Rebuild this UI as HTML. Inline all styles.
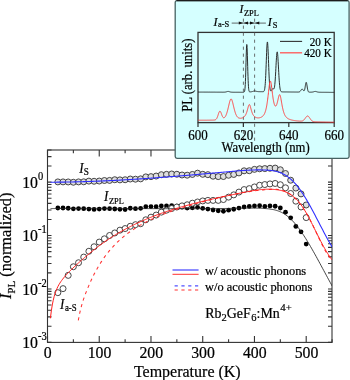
<!DOCTYPE html>
<html><head><meta charset="utf-8"><style>html,body{margin:0;padding:0;width:350px;height:380px;overflow:hidden;background:#fff}.t{font-family:"Liberation Serif",serif;fill:#000;stroke:#000;stroke-width:.2}</style></head><body>
<svg width="350" height="380" viewBox="0 0 350 380" style="position:absolute;left:0;top:0;will-change:transform">
<rect width="350" height="380" fill="#fff"/>
<rect x="47.5" y="150.0" width="284.5" height="192.39999999999998" fill="none" stroke="#333" stroke-width="1.1"/>
<path d="M47.5,342.4v-6.4M47.5,150.0v6.4M73.37,342.4v-3.2M73.37,150.0v3.2M99.24,342.4v-6.4M99.24,150.0v6.4M125.11,342.4v-3.2M125.11,150.0v3.2M150.98,342.4v-6.4M150.98,150.0v6.4M176.85,342.4v-3.2M176.85,150.0v3.2M202.72,342.4v-6.4M202.72,150.0v6.4M228.59,342.4v-3.2M228.59,150.0v3.2M254.46,342.4v-6.4M254.46,150.0v6.4M280.33,342.4v-3.2M280.33,150.0v3.2M306.2,342.4v-6.4M306.2,150.0v6.4M332.07,342.4v-3.2M332.07,150.0v3.2M47.5,342.39h4M332.0,342.39h-4M47.5,326.31h4M332.0,326.31h-4M47.5,316.9h4M332.0,316.9h-4M47.5,310.22h4M332.0,310.22h-4M47.5,305.04h4M332.0,305.04h-4M47.5,300.81h4M332.0,300.81h-4M47.5,297.24h4M332.0,297.24h-4M47.5,294.14h4M332.0,294.14h-4M47.5,291.4h4M332.0,291.4h-4M47.5,288.96h4M332.0,288.96h-4M47.5,272.88h4M332.0,272.88h-4M47.5,263.47h4M332.0,263.47h-4M47.5,256.79h4M332.0,256.79h-4M47.5,251.61h4M332.0,251.61h-4M47.5,247.38h4M332.0,247.38h-4M47.5,243.81h4M332.0,243.81h-4M47.5,240.71h4M332.0,240.71h-4M47.5,237.97h4M332.0,237.97h-4M47.5,235.53h4M332.0,235.53h-4M47.5,219.45h4M332.0,219.45h-4M47.5,210.04h4M332.0,210.04h-4M47.5,203.36h4M332.0,203.36h-4M47.5,198.18h4M332.0,198.18h-4M47.5,193.95h4M332.0,193.95h-4M47.5,190.38h4M332.0,190.38h-4M47.5,187.28h4M332.0,187.28h-4M47.5,184.54h4M332.0,184.54h-4M47.5,182.1h4M332.0,182.1h-4M47.5,166.02h4M332.0,166.02h-4M47.5,156.61h4M332.0,156.61h-4M47.5,149.93h4M332.0,149.93h-4" stroke="#333" stroke-width="1.1" fill="none"/>
<text class="t" transform="translate(47.8,357.6) scale(1,1.05)" font-size="15.8" text-anchor="middle">0</text>
<text class="t" transform="translate(99.54,357.6) scale(1,1.05)" font-size="15.8" text-anchor="middle">100</text>
<text class="t" transform="translate(151.28,357.6) scale(1,1.05)" font-size="15.8" text-anchor="middle">200</text>
<text class="t" transform="translate(203.02,357.6) scale(1,1.05)" font-size="15.8" text-anchor="middle">300</text>
<text class="t" transform="translate(254.76,357.6) scale(1,1.05)" font-size="15.8" text-anchor="middle">400</text>
<text class="t" transform="translate(306.5,357.6) scale(1,1.05)" font-size="15.8" text-anchor="middle">500</text>
<text class="t" transform="translate(38,347.99) scale(1,1.06)" font-size="15.8" text-anchor="end">10</text>
<text class="t" transform="translate(38.1,340.19) scale(1,1.1)" font-size="10.5">-3</text>
<text class="t" transform="translate(38,294.56) scale(1,1.06)" font-size="15.8" text-anchor="end">10</text>
<text class="t" transform="translate(38.1,286.76) scale(1,1.1)" font-size="10.5">-2</text>
<text class="t" transform="translate(38,241.13) scale(1,1.06)" font-size="15.8" text-anchor="end">10</text>
<text class="t" transform="translate(38.1,233.33) scale(1,1.1)" font-size="10.5">-1</text>
<text class="t" transform="translate(38,187.7) scale(1,1.06)" font-size="15.8" text-anchor="end">10</text>
<text class="t" transform="translate(38.1,179.9) scale(1,1.1)" font-size="10.5">0</text>
<text class="t" x="187.3" y="376.7" font-size="16" text-anchor="middle">Temperature (K)</text>
<text class="t" transform="translate(11.4,245.9) rotate(-90)" font-size="16.3" text-anchor="middle"><tspan font-style="italic">I</tspan><tspan font-size="11" dy="3.1">PL</tspan><tspan dy="-3.1"> (normalized)</tspan></text>
<defs><clipPath id="cp"><rect x="47.5" y="150.0" width="284.5" height="192.39999999999998"/></clipPath></defs>
<g clip-path="url(#cp)">
<circle cx="57.85" cy="181.9" r="3.0" fill="#dedede" stroke="#333" stroke-width="0.9"/>
<circle cx="63.02" cy="181.9" r="3.0" fill="#dedede" stroke="#333" stroke-width="0.9"/>
<circle cx="68.2" cy="181.94" r="3.0" fill="#dedede" stroke="#333" stroke-width="0.9"/>
<circle cx="73.37" cy="182.26" r="3.0" fill="#dedede" stroke="#333" stroke-width="0.9"/>
<circle cx="78.54" cy="181.9" r="3.0" fill="#dedede" stroke="#333" stroke-width="0.9"/>
<circle cx="83.72" cy="181.81" r="3.0" fill="#dedede" stroke="#333" stroke-width="0.9"/>
<circle cx="88.89" cy="181.12" r="3.0" fill="#dedede" stroke="#333" stroke-width="0.9"/>
<circle cx="94.07" cy="181.28" r="3.0" fill="#dedede" stroke="#333" stroke-width="0.9"/>
<circle cx="99.24" cy="181.04" r="3.0" fill="#dedede" stroke="#333" stroke-width="0.9"/>
<circle cx="104.41" cy="180.5" r="3.0" fill="#dedede" stroke="#333" stroke-width="0.9"/>
<circle cx="109.59" cy="180.41" r="3.0" fill="#dedede" stroke="#333" stroke-width="0.9"/>
<circle cx="114.76" cy="179.73" r="3.0" fill="#dedede" stroke="#333" stroke-width="0.9"/>
<circle cx="119.94" cy="179.89" r="3.0" fill="#dedede" stroke="#333" stroke-width="0.9"/>
<circle cx="125.11" cy="179.75" r="3.0" fill="#dedede" stroke="#333" stroke-width="0.9"/>
<circle cx="130.28" cy="179.01" r="3.0" fill="#dedede" stroke="#333" stroke-width="0.9"/>
<circle cx="135.46" cy="179.19" r="3.0" fill="#dedede" stroke="#333" stroke-width="0.9"/>
<circle cx="140.63" cy="178.86" r="3.0" fill="#dedede" stroke="#333" stroke-width="0.9"/>
<circle cx="145.81" cy="176.88" r="3.0" fill="#dedede" stroke="#333" stroke-width="0.9"/>
<circle cx="150.98" cy="176.64" r="3.0" fill="#dedede" stroke="#333" stroke-width="0.9"/>
<circle cx="156.15" cy="176.05" r="3.0" fill="#dedede" stroke="#333" stroke-width="0.9"/>
<circle cx="161.33" cy="174.69" r="3.0" fill="#dedede" stroke="#333" stroke-width="0.9"/>
<circle cx="166.5" cy="174.33" r="3.0" fill="#dedede" stroke="#333" stroke-width="0.9"/>
<circle cx="171.68" cy="173.98" r="3.0" fill="#dedede" stroke="#333" stroke-width="0.9"/>
<circle cx="176.85" cy="174.25" r="3.0" fill="#dedede" stroke="#333" stroke-width="0.9"/>
<circle cx="182.02" cy="174.99" r="3.0" fill="#dedede" stroke="#333" stroke-width="0.9"/>
<circle cx="187.2" cy="175.2" r="3.0" fill="#dedede" stroke="#333" stroke-width="0.9"/>
<circle cx="192.37" cy="174.44" r="3.0" fill="#dedede" stroke="#333" stroke-width="0.9"/>
<circle cx="197.55" cy="173.16" r="3.0" fill="#dedede" stroke="#333" stroke-width="0.9"/>
<circle cx="202.72" cy="174.31" r="3.0" fill="#dedede" stroke="#333" stroke-width="0.9"/>
<circle cx="207.89" cy="174.66" r="3.0" fill="#dedede" stroke="#333" stroke-width="0.9"/>
<circle cx="213.07" cy="176.21" r="3.0" fill="#dedede" stroke="#333" stroke-width="0.9"/>
<circle cx="218.24" cy="176.6" r="3.0" fill="#dedede" stroke="#333" stroke-width="0.9"/>
<circle cx="223.42" cy="176.52" r="3.0" fill="#dedede" stroke="#333" stroke-width="0.9"/>
<circle cx="228.59" cy="175.25" r="3.0" fill="#dedede" stroke="#333" stroke-width="0.9"/>
<circle cx="233.76" cy="174.44" r="3.0" fill="#dedede" stroke="#333" stroke-width="0.9"/>
<circle cx="238.94" cy="172.91" r="3.0" fill="#dedede" stroke="#333" stroke-width="0.9"/>
<circle cx="244.11" cy="170.8" r="3.0" fill="#dedede" stroke="#333" stroke-width="0.9"/>
<circle cx="249.29" cy="170.72" r="3.0" fill="#dedede" stroke="#333" stroke-width="0.9"/>
<circle cx="254.46" cy="169.37" r="3.0" fill="#dedede" stroke="#333" stroke-width="0.9"/>
<circle cx="259.63" cy="168.79" r="3.0" fill="#dedede" stroke="#333" stroke-width="0.9"/>
<circle cx="264.81" cy="168.58" r="3.0" fill="#dedede" stroke="#333" stroke-width="0.9"/>
<circle cx="269.98" cy="168.28" r="3.0" fill="#dedede" stroke="#333" stroke-width="0.9"/>
<circle cx="275.16" cy="168.08" r="3.0" fill="#dedede" stroke="#333" stroke-width="0.9"/>
<circle cx="280.33" cy="169.75" r="3.0" fill="#dedede" stroke="#333" stroke-width="0.9"/>
<circle cx="285.5" cy="173.51" r="3.0" fill="#dedede" stroke="#333" stroke-width="0.9"/>
<circle cx="290.68" cy="180.21" r="3.0" fill="#dedede" stroke="#333" stroke-width="0.9"/>
<circle cx="295.85" cy="188.06" r="3.0" fill="#dedede" stroke="#333" stroke-width="0.9"/>
<circle cx="301.03" cy="193.92" r="3.0" fill="#dedede" stroke="#333" stroke-width="0.9"/>
<circle cx="306.2" cy="204.99" r="3.0" fill="#dedede" stroke="#333" stroke-width="0.9"/>
<circle cx="57.85" cy="208" r="2.4" fill="#000"/>
<circle cx="63.02" cy="208.02" r="2.4" fill="#000"/>
<circle cx="68.2" cy="208.27" r="2.4" fill="#000"/>
<circle cx="73.37" cy="208.87" r="2.4" fill="#000"/>
<circle cx="78.54" cy="208.6" r="2.4" fill="#000"/>
<circle cx="83.72" cy="208.66" r="2.4" fill="#000"/>
<circle cx="88.89" cy="209.12" r="2.4" fill="#000"/>
<circle cx="94.07" cy="209.47" r="2.4" fill="#000"/>
<circle cx="99.24" cy="209.07" r="2.4" fill="#000"/>
<circle cx="104.41" cy="208.6" r="2.4" fill="#000"/>
<circle cx="109.59" cy="208.64" r="2.4" fill="#000"/>
<circle cx="114.76" cy="208.98" r="2.4" fill="#000"/>
<circle cx="119.94" cy="209.32" r="2.4" fill="#000"/>
<circle cx="125.11" cy="209.49" r="2.4" fill="#000"/>
<circle cx="130.28" cy="208.24" r="2.4" fill="#000"/>
<circle cx="135.46" cy="208.69" r="2.4" fill="#000"/>
<circle cx="140.63" cy="208.32" r="2.4" fill="#000"/>
<circle cx="145.81" cy="206.7" r="2.4" fill="#000"/>
<circle cx="150.98" cy="206.6" r="2.4" fill="#000"/>
<circle cx="156.15" cy="206.7" r="2.4" fill="#000"/>
<circle cx="161.33" cy="205.91" r="2.4" fill="#000"/>
<circle cx="166.5" cy="205.9" r="2.4" fill="#000"/>
<circle cx="171.68" cy="205.6" r="2.4" fill="#000"/>
<circle cx="176.85" cy="206.19" r="2.4" fill="#000"/>
<circle cx="182.02" cy="207.01" r="2.4" fill="#000"/>
<circle cx="187.2" cy="208.08" r="2.4" fill="#000"/>
<circle cx="192.37" cy="207.84" r="2.4" fill="#000"/>
<circle cx="197.55" cy="207.31" r="2.4" fill="#000"/>
<circle cx="202.72" cy="208.3" r="2.4" fill="#000"/>
<circle cx="207.89" cy="209.1" r="2.4" fill="#000"/>
<circle cx="213.07" cy="210" r="2.4" fill="#000"/>
<circle cx="218.24" cy="210.74" r="2.4" fill="#000"/>
<circle cx="223.42" cy="211.23" r="2.4" fill="#000"/>
<circle cx="228.59" cy="210.13" r="2.4" fill="#000"/>
<circle cx="233.76" cy="209.24" r="2.4" fill="#000"/>
<circle cx="238.94" cy="208.09" r="2.4" fill="#000"/>
<circle cx="244.11" cy="206.99" r="2.4" fill="#000"/>
<circle cx="249.29" cy="206.38" r="2.4" fill="#000"/>
<circle cx="254.46" cy="205.89" r="2.4" fill="#000"/>
<circle cx="259.63" cy="205.77" r="2.4" fill="#000"/>
<circle cx="264.81" cy="206.39" r="2.4" fill="#000"/>
<circle cx="269.98" cy="205.9" r="2.4" fill="#000"/>
<circle cx="275.16" cy="206.25" r="2.4" fill="#000"/>
<circle cx="280.33" cy="207.98" r="2.4" fill="#000"/>
<circle cx="285.5" cy="212.22" r="2.4" fill="#000"/>
<circle cx="290.68" cy="217.87" r="2.4" fill="#000"/>
<circle cx="295.85" cy="226.46" r="2.4" fill="#000"/>
<circle cx="301.03" cy="231.86" r="2.4" fill="#000"/>
<circle cx="306.2" cy="244.1" r="2.4" fill="#000"/>
<circle cx="57.85" cy="292.67" r="3.0" fill="#fff" stroke="#333" stroke-width="0.9"/>
<circle cx="63.02" cy="288.64" r="3.0" fill="#fff" stroke="#333" stroke-width="0.9"/>
<circle cx="68.2" cy="275.37" r="3.0" fill="#fff" stroke="#333" stroke-width="0.9"/>
<circle cx="73.37" cy="266.75" r="3.0" fill="#fff" stroke="#333" stroke-width="0.9"/>
<circle cx="78.54" cy="262.74" r="3.0" fill="#fff" stroke="#333" stroke-width="0.9"/>
<circle cx="83.72" cy="257.07" r="3.0" fill="#fff" stroke="#333" stroke-width="0.9"/>
<circle cx="88.89" cy="251.25" r="3.0" fill="#fff" stroke="#333" stroke-width="0.9"/>
<circle cx="94.07" cy="246.76" r="3.0" fill="#fff" stroke="#333" stroke-width="0.9"/>
<circle cx="99.24" cy="242.09" r="3.0" fill="#fff" stroke="#333" stroke-width="0.9"/>
<circle cx="104.41" cy="238.82" r="3.0" fill="#fff" stroke="#333" stroke-width="0.9"/>
<circle cx="109.59" cy="235.47" r="3.0" fill="#fff" stroke="#333" stroke-width="0.9"/>
<circle cx="114.76" cy="232.94" r="3.0" fill="#fff" stroke="#333" stroke-width="0.9"/>
<circle cx="119.94" cy="230.15" r="3.0" fill="#fff" stroke="#333" stroke-width="0.9"/>
<circle cx="125.11" cy="228.54" r="3.0" fill="#fff" stroke="#333" stroke-width="0.9"/>
<circle cx="130.28" cy="226.28" r="3.0" fill="#fff" stroke="#333" stroke-width="0.9"/>
<circle cx="135.46" cy="224.68" r="3.0" fill="#fff" stroke="#333" stroke-width="0.9"/>
<circle cx="140.63" cy="223.72" r="3.0" fill="#fff" stroke="#333" stroke-width="0.9"/>
<circle cx="145.81" cy="219.79" r="3.0" fill="#fff" stroke="#333" stroke-width="0.9"/>
<circle cx="150.98" cy="217.16" r="3.0" fill="#fff" stroke="#333" stroke-width="0.9"/>
<circle cx="156.15" cy="215.06" r="3.0" fill="#fff" stroke="#333" stroke-width="0.9"/>
<circle cx="161.33" cy="212.14" r="3.0" fill="#fff" stroke="#333" stroke-width="0.9"/>
<circle cx="166.5" cy="210.14" r="3.0" fill="#fff" stroke="#333" stroke-width="0.9"/>
<circle cx="171.68" cy="208.51" r="3.0" fill="#fff" stroke="#333" stroke-width="0.9"/>
<circle cx="176.85" cy="207.01" r="3.0" fill="#fff" stroke="#333" stroke-width="0.9"/>
<circle cx="182.02" cy="205.89" r="3.0" fill="#fff" stroke="#333" stroke-width="0.9"/>
<circle cx="187.2" cy="204.77" r="3.0" fill="#fff" stroke="#333" stroke-width="0.9"/>
<circle cx="192.37" cy="203.19" r="3.0" fill="#fff" stroke="#333" stroke-width="0.9"/>
<circle cx="197.55" cy="201.98" r="3.0" fill="#fff" stroke="#333" stroke-width="0.9"/>
<circle cx="202.72" cy="200.93" r="3.0" fill="#fff" stroke="#333" stroke-width="0.9"/>
<circle cx="207.89" cy="200.4" r="3.0" fill="#fff" stroke="#333" stroke-width="0.9"/>
<circle cx="213.07" cy="200.4" r="3.0" fill="#fff" stroke="#333" stroke-width="0.9"/>
<circle cx="218.24" cy="200.38" r="3.0" fill="#fff" stroke="#333" stroke-width="0.9"/>
<circle cx="223.42" cy="199.55" r="3.0" fill="#fff" stroke="#333" stroke-width="0.9"/>
<circle cx="228.59" cy="197.13" r="3.0" fill="#fff" stroke="#333" stroke-width="0.9"/>
<circle cx="233.76" cy="194.86" r="3.0" fill="#fff" stroke="#333" stroke-width="0.9"/>
<circle cx="238.94" cy="192.08" r="3.0" fill="#fff" stroke="#333" stroke-width="0.9"/>
<circle cx="244.11" cy="189.58" r="3.0" fill="#fff" stroke="#333" stroke-width="0.9"/>
<circle cx="249.29" cy="188.64" r="3.0" fill="#fff" stroke="#333" stroke-width="0.9"/>
<circle cx="254.46" cy="186.94" r="3.0" fill="#fff" stroke="#333" stroke-width="0.9"/>
<circle cx="259.63" cy="185.23" r="3.0" fill="#fff" stroke="#333" stroke-width="0.9"/>
<circle cx="264.81" cy="184.55" r="3.0" fill="#fff" stroke="#333" stroke-width="0.9"/>
<circle cx="269.98" cy="183.91" r="3.0" fill="#fff" stroke="#333" stroke-width="0.9"/>
<circle cx="275.16" cy="183.46" r="3.0" fill="#fff" stroke="#333" stroke-width="0.9"/>
<circle cx="280.33" cy="184.72" r="3.0" fill="#fff" stroke="#333" stroke-width="0.9"/>
<circle cx="285.5" cy="187.8" r="3.0" fill="#fff" stroke="#333" stroke-width="0.9"/>
<circle cx="290.68" cy="193.47" r="3.0" fill="#fff" stroke="#333" stroke-width="0.9"/>
<circle cx="295.85" cy="201.16" r="3.0" fill="#fff" stroke="#333" stroke-width="0.9"/>
<circle cx="301.03" cy="206.97" r="3.0" fill="#fff" stroke="#333" stroke-width="0.9"/>
<circle cx="306.2" cy="217.6" r="3.0" fill="#fff" stroke="#333" stroke-width="0.9"/>
<path d="M50.6,208.59 L51.54,208.58 L52.48,208.57 L53.43,208.56 L54.37,208.55 L55.31,208.54 L56.25,208.53 L57.19,208.53 L58.13,208.52 L59.08,208.51 L60.02,208.5 L60.96,208.49 L61.9,208.49 L62.84,208.48 L63.79,208.47 L64.73,208.47 L65.67,208.46 L66.61,208.46 L67.55,208.45 L68.49,208.45 L69.44,208.44 L70.38,208.44 L71.32,208.43 L72.26,208.43 L73.2,208.42 L74.15,208.42 L75.09,208.42 L76.03,208.41 L76.97,208.41 L77.91,208.41 L78.85,208.41 L79.8,208.41 L80.74,208.4 L81.68,208.4 L82.62,208.4 L83.56,208.4 L84.51,208.4 L85.45,208.4 L86.39,208.4 L87.33,208.4 L88.27,208.4 L89.21,208.4 L90.16,208.4 L91.1,208.4 L92.04,208.4 L92.98,208.4 L93.92,208.4 L94.86,208.4 L95.81,208.4 L96.75,208.4 L97.69,208.4 L98.63,208.41 L99.57,208.41 L100.52,208.41 L101.46,208.41 L102.4,208.41 L103.34,208.42 L104.28,208.42 L105.22,208.42 L106.17,208.42 L107.11,208.43 L108.05,208.43 L108.99,208.43 L109.93,208.44 L110.88,208.44 L111.82,208.44 L112.76,208.45 L113.7,208.45 L114.64,208.45 L115.58,208.46 L116.53,208.46 L117.47,208.46 L118.41,208.47 L119.35,208.47 L120.29,208.48 L121.24,208.48 L122.18,208.48 L123.12,208.49 L124.06,208.49 L125,208.5 L125.94,208.5 L126.89,208.51 L127.83,208.51 L128.77,208.52 L129.71,208.52 L130.65,208.52 L131.6,208.53 L132.54,208.53 L133.48,208.54 L134.42,208.54 L135.36,208.55 L136.3,208.55 L137.25,208.56 L138.19,208.56 L139.13,208.57 L140.07,208.57 L141.01,208.58 L141.96,208.58 L142.9,208.59 L143.84,208.59 L144.78,208.59 L145.72,208.6 L146.66,208.6 L147.61,208.61 L148.55,208.61 L149.49,208.62 L150.43,208.62 L151.37,208.63 L152.32,208.63 L153.26,208.63 L154.2,208.64 L155.14,208.64 L156.08,208.65 L157.02,208.65 L157.97,208.65 L158.91,208.66 L159.85,208.66 L160.79,208.66 L161.73,208.67 L162.67,208.67 L163.62,208.67 L164.56,208.68 L165.5,208.68 L166.44,208.68 L167.38,208.68 L168.33,208.69 L169.27,208.69 L170.21,208.69 L171.15,208.69 L172.09,208.7 L173.03,208.7 L173.98,208.7 L174.92,208.7 L175.86,208.7 L176.8,208.7 L177.74,208.71 L178.69,208.71 L179.63,208.71 L180.57,208.71 L181.51,208.71 L182.45,208.71 L183.39,208.71 L184.34,208.71 L185.28,208.71 L186.22,208.71 L187.16,208.71 L188.1,208.71 L189.05,208.71 L189.99,208.7 L190.93,208.7 L191.87,208.7 L192.81,208.7 L193.75,208.7 L194.7,208.7 L195.64,208.69 L196.58,208.69 L197.52,208.69 L198.46,208.68 L199.41,208.68 L200.35,208.68 L201.29,208.67 L202.23,208.67 L203.17,208.66 L204.11,208.66 L205.06,208.65 L206,208.65 L206.94,208.64 L207.88,208.64 L208.82,208.63 L209.77,208.62 L210.71,208.62 L211.65,208.61 L212.59,208.6 L213.53,208.6 L214.47,208.59 L215.42,208.58 L216.36,208.57 L217.3,208.56 L218.24,208.55 L219.18,208.54 L220.13,208.53 L221.07,208.52 L222.01,208.51 L222.95,208.5 L223.89,208.49 L224.83,208.48 L225.78,208.47 L226.72,208.46 L227.66,208.44 L228.6,208.43 L229.54,208.42 L230.48,208.4 L231.43,208.39 L232.37,208.37 L233.31,208.36 L234.25,208.34 L235.19,208.33 L236.14,208.31 L237.08,208.3 L238.02,208.28 L238.96,208.26 L239.9,208.25 L240.84,208.23 L241.79,208.21 L242.73,208.19 L243.67,208.17 L244.61,208.16 L245.55,208.14 L246.5,208.13 L247.44,208.11 L248.38,208.1 L249.32,208.09 L250.26,208.09 L251.2,208.08 L252.15,208.08 L253.09,208.09 L254.03,208.09 L254.97,208.1 L255.91,208.12 L256.86,208.14 L257.8,208.16 L258.74,208.19 L259.68,208.22 L260.62,208.26 L261.56,208.31 L262.51,208.36 L263.45,208.42 L264.39,208.48 L265.33,208.55 L266.27,208.63 L267.22,208.72 L268.16,208.81 L269.1,208.92 L270.04,209.04 L270.98,209.18 L271.92,209.33 L272.87,209.51 L273.81,209.7 L274.75,209.92 L275.69,210.17 L276.63,210.44 L277.58,210.74 L278.52,211.07 L279.46,211.44 L280.4,211.84 L281.34,212.28 L282.28,212.76 L283.23,213.28 L284.17,213.85 L285.11,214.46 L286.05,215.11 L286.99,215.81 L287.94,216.55 L288.88,217.34 L289.82,218.18 L290.76,219.05 L291.7,219.98 L292.64,220.94 L293.59,221.96 L294.53,223.01 L295.47,224.12 L296.41,225.26 L297.35,226.45 L298.29,227.67 L299.24,228.93 L300.18,230.23 L301.12,231.57 L302.06,232.94 L303,234.34 L303.95,235.77 L304.89,237.24 L305.83,238.73 L306.77,240.24 L307.71,241.78 L308.65,243.35 L309.6,244.94 L310.54,246.55 L311.48,248.18 L312.42,249.82 L313.36,251.49 L314.31,253.16 L315.25,254.86 L316.19,256.56 L317.13,258.28 L318.07,260 L319.01,261.73 L319.96,263.47 L320.9,265.22 L321.84,266.97 L322.78,268.72 L323.72,270.47 L324.67,272.22 L325.61,273.97 L326.55,275.72 L327.49,277.46 L328.43,279.19 L329.37,280.92 L330.32,282.64 L331.26,284.35 L332.2,286.04" fill="none" stroke="#222" stroke-width="0.85"/>
<path d="M78.3,320.41 L79.15,315.95 L80,311.98 L80.85,308.43 L81.7,305.22 L82.55,302.31 L83.39,299.63 L84.24,297.15 L85.09,294.82 L85.94,292.59 L86.79,290.45 L87.64,288.36 L88.49,286.33 L89.34,284.36 L90.19,282.44 L91.04,280.57 L91.89,278.76 L92.74,276.99 L93.58,275.28 L94.43,273.61 L95.28,271.99 L96.13,270.42 L96.98,268.89 L97.83,267.41 L98.68,265.97 L99.53,264.57 L100.38,263.21 L101.23,261.88 L102.08,260.59 L102.93,259.34 L103.77,258.12 L104.62,256.93 L105.47,255.77 L106.32,254.64 L107.17,253.54 L108.02,252.46 L108.87,251.41 L109.72,250.39 L110.57,249.39 L111.42,248.42 L112.27,247.47 L113.12,246.54 L113.96,245.63 L114.81,244.74 L115.66,243.88 L116.51,243.03 L117.36,242.2 L118.21,241.39 L119.06,240.6 L119.91,239.82 L120.76,239.06 L121.61,238.32 L122.46,237.59 L123.31,236.88 L124.15,236.18 L125,235.5 L125.85,234.83 L126.7,234.17 L127.55,233.52 L128.4,232.89 L129.25,232.27 L130.1,231.67 L130.95,231.07 L131.8,230.48 L132.65,229.91 L133.5,229.34 L134.34,228.79 L135.19,228.24 L136.04,227.71 L136.89,227.18 L137.74,226.67 L138.59,226.16 L139.44,225.66 L140.29,225.17 L141.14,224.68 L141.99,224.21 L142.84,223.74 L143.69,223.28 L144.53,222.82 L145.38,222.37 L146.23,221.93 L147.08,221.5 L147.93,221.07 L148.78,220.65 L149.63,220.23 L150.48,219.82 L151.33,219.42 L152.18,219.02 L153.03,218.63 L153.88,218.24 L154.72,217.86 L155.57,217.48 L156.42,217.11 L157.27,216.74 L158.12,216.38 L158.97,216.02 L159.82,215.67 L160.67,215.32 L161.52,214.97 L162.37,214.63 L163.22,214.29 L164.07,213.96 L164.91,213.63 L165.76,213.31 L166.61,212.98 L167.46,212.66 L168.31,212.35 L169.16,212.04 L170.01,211.73 L170.86,211.42 L171.71,211.12 L172.56,210.82 L173.41,210.53 L174.26,210.23 L175.1,209.94 L175.95,209.66 L176.8,209.37 L177.65,209.09 L178.5,208.81 L179.35,208.53 L180.2,208.26 L181.05,207.99 L181.9,207.72 L182.75,207.45 L183.6,207.19 L184.45,206.92 L185.29,206.66 L186.14,206.4 L186.99,206.15 L187.84,205.89 L188.69,205.64 L189.54,205.39 L190.39,205.14 L191.24,204.9 L192.09,204.65 L192.94,204.41 L193.79,204.17 L194.64,203.93 L195.48,203.69 L196.33,203.46 L197.18,203.22 L198.03,202.99 L198.88,202.76 L199.73,202.53 L200.58,202.3 L201.43,202.07 L202.28,201.85 L203.13,201.63 L203.98,201.4 L204.83,201.18 L205.67,200.96 L206.52,200.74 L207.37,200.53 L208.22,200.31 L209.07,200.1 L209.92,199.88 L210.77,199.67 L211.62,199.46 L212.47,199.25 L213.32,199.04 L214.17,198.83 L215.02,198.62 L215.86,198.42 L216.71,198.21 L217.56,198.01 L218.41,197.81 L219.26,197.6 L220.11,197.4 L220.96,197.2 L221.81,197 L222.66,196.81 L223.51,196.61 L224.36,196.41 L225.21,196.22 L226.05,196.03 L226.9,195.84 L227.75,195.65 L228.6,195.46 L229.45,195.27 L230.3,195.09 L231.15,194.9 L232,194.72 L232.85,194.55 L233.7,194.37 L234.55,194.2 L235.4,194.02 L236.24,193.85 L237.09,193.69 L237.94,193.52 L238.79,193.36 L239.64,193.2 L240.49,193.04 L241.34,192.88 L242.19,192.73 L243.04,192.58 L243.89,192.43 L244.74,192.29 L245.59,192.15 L246.43,192.01 L247.28,191.87 L248.13,191.74 L248.98,191.61 L249.83,191.48 L250.68,191.36 L251.53,191.23 L252.38,191.12 L253.23,191 L254.08,190.89 L254.93,190.78 L255.78,190.67 L256.62,190.57 L257.47,190.47 L258.32,190.37 L259.17,190.28 L260.02,190.19 L260.87,190.1 L261.72,190.02 L262.57,189.94 L263.42,189.86 L264.27,189.79 L265.12,189.71 L265.97,189.65 L266.81,189.58 L267.66,189.52 L268.51,189.47 L269.36,189.41 L270.21,189.36 L271.06,189.32 L271.91,189.28 L272.76,189.26 L273.61,189.25 L274.46,189.25 L275.31,189.27 L276.16,189.31 L277,189.37 L277.85,189.45 L278.7,189.55 L279.55,189.69 L280.4,189.85 L281.25,190.04 L282.1,190.26 L282.95,190.52 L283.8,190.81 L284.65,191.14 L285.5,191.51 L286.35,191.91 L287.19,192.35 L288.04,192.83 L288.89,193.35 L289.74,193.9 L290.59,194.5 L291.44,195.14 L292.29,195.81 L293.14,196.53 L293.99,197.29 L294.84,198.09 L295.69,198.93 L296.54,199.81 L297.38,200.74 L298.23,201.71 L299.08,202.72 L299.93,203.77 L300.78,204.87 L301.63,206.01 L302.48,207.2 L303.33,208.43 L304.18,209.7 L305.03,211.02 L305.88,212.38 L306.73,213.79 L307.57,215.24 L308.42,216.74 L309.27,218.29 L310.12,219.88 L310.97,221.51 L311.82,223.2 L312.67,224.92 L313.52,226.68 L314.37,228.48 L315.22,230.29 L316.07,232.11 L316.92,233.94 L317.76,235.76 L318.61,237.57 L319.46,239.37 L320.31,241.14 L321.16,242.88 L322.01,244.59 L322.86,246.25 L323.71,247.85 L324.56,249.4 L325.41,250.89 L326.26,252.3 L327.11,253.64 L327.95,254.9 L328.8,256.06 L329.65,257.14 L330.5,258.11 L331.35,258.98 L332.2,259.74" fill="none" stroke="#ff3030" stroke-width="1.05" stroke-dasharray="3.2 3.6"/>
<path d="M50.4,318.32 L51.34,310.84 L52.28,304.98 L53.23,300.3 L54.17,296.5 L55.11,293.35 L56.05,290.71 L57,288.44 L57.94,286.47 L58.88,284.73 L59.82,283.17 L60.77,281.74 L61.71,280.41 L62.65,279.16 L63.59,277.98 L64.54,276.84 L65.48,275.75 L66.42,274.69 L67.36,273.67 L68.31,272.67 L69.25,271.7 L70.19,270.75 L71.13,269.81 L72.08,268.89 L73.02,267.99 L73.96,267.09 L74.9,266.21 L75.85,265.34 L76.79,264.47 L77.73,263.62 L78.67,262.77 L79.62,261.92 L80.56,261.08 L81.5,260.25 L82.44,259.42 L83.39,258.6 L84.33,257.78 L85.27,256.96 L86.21,256.16 L87.16,255.36 L88.1,254.56 L89.04,253.77 L89.98,253 L90.93,252.22 L91.87,251.46 L92.81,250.7 L93.75,249.95 L94.7,249.21 L95.64,248.48 L96.58,247.75 L97.52,247.03 L98.47,246.32 L99.41,245.62 L100.35,244.93 L101.29,244.24 L102.24,243.56 L103.18,242.89 L104.12,242.23 L105.06,241.57 L106.01,240.92 L106.95,240.28 L107.89,239.65 L108.83,239.02 L109.78,238.4 L110.72,237.79 L111.66,237.18 L112.6,236.58 L113.55,235.99 L114.49,235.41 L115.43,234.83 L116.37,234.26 L117.32,233.69 L118.26,233.14 L119.2,232.59 L120.14,232.04 L121.09,231.5 L122.03,230.97 L122.97,230.44 L123.91,229.92 L124.86,229.41 L125.8,228.9 L126.74,228.39 L127.68,227.9 L128.63,227.41 L129.57,226.92 L130.51,226.44 L131.45,225.96 L132.4,225.49 L133.34,225.03 L134.28,224.57 L135.22,224.11 L136.17,223.67 L137.11,223.22 L138.05,222.78 L138.99,222.35 L139.94,221.92 L140.88,221.49 L141.82,221.07 L142.76,220.66 L143.71,220.25 L144.65,219.84 L145.59,219.44 L146.53,219.04 L147.47,218.64 L148.42,218.26 L149.36,217.87 L150.3,217.49 L151.24,217.11 L152.19,216.74 L153.13,216.37 L154.07,216.01 L155.01,215.64 L155.96,215.29 L156.9,214.93 L157.84,214.58 L158.78,214.24 L159.73,213.9 L160.67,213.56 L161.61,213.22 L162.55,212.89 L163.5,212.56 L164.44,212.24 L165.38,211.92 L166.32,211.6 L167.27,211.28 L168.21,210.97 L169.15,210.66 L170.09,210.36 L171.04,210.06 L171.98,209.76 L172.92,209.46 L173.86,209.17 L174.81,208.88 L175.75,208.59 L176.69,208.31 L177.63,208.03 L178.58,207.75 L179.52,207.47 L180.46,207.2 L181.4,206.93 L182.35,206.66 L183.29,206.39 L184.23,206.12 L185.17,205.86 L186.12,205.6 L187.06,205.34 L188,205.09 L188.94,204.83 L189.89,204.58 L190.83,204.33 L191.77,204.08 L192.71,203.83 L193.66,203.59 L194.6,203.35 L195.54,203.1 L196.48,202.86 L197.43,202.63 L198.37,202.39 L199.31,202.15 L200.25,201.92 L201.2,201.69 L202.14,201.46 L203.08,201.23 L204.02,201 L204.97,200.78 L205.91,200.55 L206.85,200.33 L207.79,200.11 L208.74,199.89 L209.68,199.67 L210.62,199.45 L211.56,199.23 L212.51,199.01 L213.45,198.8 L214.39,198.59 L215.33,198.37 L216.28,198.16 L217.22,197.95 L218.16,197.74 L219.1,197.53 L220.05,197.33 L220.99,197.12 L221.93,196.92 L222.87,196.71 L223.82,196.51 L224.76,196.3 L225.7,196.1 L226.64,195.9 L227.59,195.7 L228.53,195.5 L229.47,195.31 L230.41,195.11 L231.36,194.91 L232.3,194.72 L233.24,194.52 L234.18,194.33 L235.13,194.13 L236.07,193.94 L237.01,193.75 L237.95,193.56 L238.89,193.37 L239.84,193.18 L240.78,192.99 L241.72,192.8 L242.66,192.61 L243.61,192.42 L244.55,192.24 L245.49,192.05 L246.43,191.87 L247.38,191.68 L248.32,191.5 L249.26,191.32 L250.2,191.15 L251.15,190.98 L252.09,190.81 L253.03,190.65 L253.97,190.49 L254.92,190.35 L255.86,190.2 L256.8,190.07 L257.74,189.94 L258.69,189.83 L259.63,189.72 L260.57,189.62 L261.51,189.53 L262.46,189.45 L263.4,189.38 L264.34,189.32 L265.28,189.27 L266.23,189.23 L267.17,189.21 L268.11,189.2 L269.05,189.2 L270,189.22 L270.94,189.24 L271.88,189.29 L272.82,189.34 L273.77,189.41 L274.71,189.5 L275.65,189.6 L276.59,189.71 L277.54,189.84 L278.48,189.99 L279.42,190.16 L280.36,190.35 L281.31,190.56 L282.25,190.81 L283.19,191.08 L284.13,191.38 L285.08,191.73 L286.02,192.1 L286.96,192.52 L287.9,192.98 L288.85,193.48 L289.79,194.03 L290.73,194.63 L291.67,195.28 L292.62,195.97 L293.56,196.73 L294.5,197.54 L295.44,198.4 L296.39,199.32 L297.33,200.31 L298.27,201.36 L299.21,202.47 L300.16,203.65 L301.1,204.89 L302.04,206.2 L302.98,207.59 L303.93,209.04 L304.87,210.57 L305.81,212.16 L306.75,213.8 L307.7,215.5 L308.64,217.25 L309.58,219.03 L310.52,220.85 L311.47,222.7 L312.41,224.56 L313.35,226.45 L314.29,228.34 L315.24,230.24 L316.18,232.14 L317.12,234.04 L318.06,235.93 L319.01,237.8 L319.95,239.65 L320.89,241.48 L321.83,243.28 L322.78,245.05 L323.72,246.78 L324.66,248.46 L325.6,250.1 L326.55,251.69 L327.49,253.23 L328.43,254.71 L329.37,256.12 L330.32,257.47 L331.26,258.74 L332.2,259.95" fill="none" stroke="#ff2020" stroke-width="1.0"/>
<path d="M50.5,182.21 L51.44,182.21 L52.38,182.21 L53.33,182.2 L54.27,182.2 L55.21,182.19 L56.15,182.18 L57.09,182.17 L58.04,182.17 L58.98,182.16 L59.92,182.15 L60.86,182.14 L61.81,182.12 L62.75,182.11 L63.69,182.1 L64.63,182.09 L65.57,182.07 L66.52,182.06 L67.46,182.04 L68.4,182.02 L69.34,182.01 L70.28,181.99 L71.23,181.97 L72.17,181.95 L73.11,181.93 L74.05,181.91 L75,181.89 L75.94,181.86 L76.88,181.84 L77.82,181.82 L78.76,181.79 L79.71,181.77 L80.65,181.74 L81.59,181.71 L82.53,181.69 L83.47,181.66 L84.42,181.63 L85.36,181.6 L86.3,181.57 L87.24,181.54 L88.19,181.51 L89.13,181.48 L90.07,181.45 L91.01,181.41 L91.95,181.38 L92.9,181.34 L93.84,181.31 L94.78,181.27 L95.72,181.24 L96.66,181.2 L97.61,181.16 L98.55,181.12 L99.49,181.09 L100.43,181.05 L101.38,181.01 L102.32,180.97 L103.26,180.92 L104.2,180.88 L105.14,180.84 L106.09,180.8 L107.03,180.75 L107.97,180.71 L108.91,180.67 L109.85,180.62 L110.8,180.57 L111.74,180.53 L112.68,180.48 L113.62,180.43 L114.57,180.39 L115.51,180.34 L116.45,180.29 L117.39,180.24 L118.33,180.19 L119.28,180.14 L120.22,180.09 L121.16,180.04 L122.1,179.98 L123.04,179.93 L123.99,179.88 L124.93,179.82 L125.87,179.77 L126.81,179.71 L127.76,179.66 L128.7,179.6 L129.64,179.55 L130.58,179.49 L131.52,179.43 L132.47,179.38 L133.41,179.32 L134.35,179.26 L135.29,179.2 L136.23,179.14 L137.18,179.08 L138.12,179.02 L139.06,178.96 L140,178.9 L140.95,178.84 L141.89,178.77 L142.83,178.71 L143.77,178.65 L144.71,178.59 L145.66,178.52 L146.6,178.46 L147.54,178.39 L148.48,178.33 L149.42,178.26 L150.37,178.2 L151.31,178.13 L152.25,178.06 L153.19,178 L154.14,177.93 L155.08,177.86 L156.02,177.79 L156.96,177.72 L157.9,177.65 L158.85,177.59 L159.79,177.52 L160.73,177.45 L161.67,177.38 L162.61,177.3 L163.56,177.23 L164.5,177.16 L165.44,177.09 L166.38,177.02 L167.33,176.95 L168.27,176.87 L169.21,176.8 L170.15,176.73 L171.09,176.65 L172.04,176.58 L172.98,176.5 L173.92,176.43 L174.86,176.35 L175.8,176.28 L176.75,176.2 L177.69,176.13 L178.63,176.05 L179.57,175.97 L180.52,175.9 L181.46,175.82 L182.4,175.74 L183.34,175.67 L184.28,175.59 L185.23,175.51 L186.17,175.43 L187.11,175.35 L188.05,175.27 L188.99,175.19 L189.94,175.11 L190.88,175.03 L191.82,174.96 L192.76,174.87 L193.71,174.79 L194.65,174.71 L195.59,174.63 L196.53,174.55 L197.47,174.47 L198.42,174.39 L199.36,174.31 L200.3,174.23 L201.24,174.14 L202.18,174.06 L203.13,173.98 L204.07,173.9 L205.01,173.81 L205.95,173.73 L206.9,173.65 L207.84,173.56 L208.78,173.48 L209.72,173.4 L210.66,173.31 L211.61,173.23 L212.55,173.15 L213.49,173.06 L214.43,172.98 L215.37,172.89 L216.32,172.81 L217.26,172.72 L218.2,172.64 L219.14,172.55 L220.09,172.47 L221.03,172.38 L221.97,172.3 L222.91,172.21 L223.85,172.13 L224.8,172.04 L225.74,171.95 L226.68,171.87 L227.62,171.78 L228.56,171.7 L229.51,171.61 L230.45,171.52 L231.39,171.44 L232.33,171.36 L233.28,171.27 L234.22,171.19 L235.16,171.11 L236.1,171.03 L237.04,170.95 L237.99,170.87 L238.93,170.8 L239.87,170.72 L240.81,170.65 L241.75,170.58 L242.7,170.52 L243.64,170.45 L244.58,170.39 L245.52,170.33 L246.47,170.28 L247.41,170.22 L248.35,170.18 L249.29,170.13 L250.23,170.09 L251.18,170.05 L252.12,170.02 L253.06,169.99 L254,169.96 L254.94,169.94 L255.89,169.92 L256.83,169.91 L257.77,169.91 L258.71,169.91 L259.66,169.91 L260.6,169.92 L261.54,169.93 L262.48,169.95 L263.42,169.98 L264.37,170.01 L265.31,170.05 L266.25,170.1 L267.19,170.15 L268.13,170.21 L269.08,170.28 L270.02,170.36 L270.96,170.45 L271.9,170.56 L272.85,170.69 L273.79,170.84 L274.73,171.01 L275.67,171.21 L276.61,171.43 L277.56,171.68 L278.5,171.96 L279.44,172.28 L280.38,172.63 L281.32,173.01 L282.27,173.44 L283.21,173.91 L284.15,174.41 L285.09,174.96 L286.04,175.55 L286.98,176.18 L287.92,176.85 L288.86,177.57 L289.8,178.33 L290.75,179.13 L291.69,179.99 L292.63,180.88 L293.57,181.83 L294.51,182.82 L295.46,183.87 L296.4,184.96 L297.34,186.1 L298.28,187.3 L299.23,188.54 L300.17,189.84 L301.11,191.18 L302.05,192.58 L302.99,194.01 L303.94,195.49 L304.88,197.01 L305.82,198.56 L306.76,200.15 L307.7,201.77 L308.65,203.42 L309.59,205.1 L310.53,206.81 L311.47,208.53 L312.42,210.28 L313.36,212.04 L314.3,213.82 L315.24,215.61 L316.18,217.41 L317.13,219.22 L318.07,221.03 L319.01,222.85 L319.95,224.67 L320.89,226.48 L321.84,228.3 L322.78,230.1 L323.72,231.9 L324.66,233.68 L325.61,235.45 L326.55,237.2 L327.49,238.93 L328.43,240.64 L329.37,242.32 L330.32,243.97 L331.26,245.59 L332.2,247.18" fill="none" stroke="#3030ff" stroke-width="1.1"/>
</g>
<text class="t" transform="translate(79.2,172.7) scale(1,1.1)" font-size="13" font-style="italic">I</text>
<text class="t" transform="translate(83.8,175.1) scale(1,1.1)" font-size="9.2">S</text>
<text class="t" transform="translate(104,201.2) scale(1,1.1)" font-size="13" font-style="italic">I</text>
<text class="t" transform="translate(109,203.8) scale(1,1.1)" font-size="8.4">ZPL</text>
<text class="t" transform="translate(60,309.3) scale(1,1.1)" font-size="13" font-style="italic">I</text>
<text class="t" transform="translate(64.9,311.4) scale(1,1.1)" font-size="8.8">a-S</text>
<path d="M172.5,270H198.6" stroke="#5050ff" stroke-width="1.3"/>
<path d="M172.5,274.3H198.6" stroke="#ff3030" stroke-width="1.0"/>
<path d="M174.6,285.8H198.6" stroke="#5050ff" stroke-width="1.3" stroke-dasharray="3.2 3.6"/>
<path d="M174.6,290H198.6" stroke="#ff3030" stroke-width="1.1" stroke-dasharray="3.2 3.6"/>
<text class="t" x="205" y="274.8" font-size="12.4">w/ acoustic phonons</text>
<text class="t" x="205" y="290.8" font-size="12.4">w/o acoustic phonons</text>
<text class="t" x="205.3" y="317.8" font-size="13.9">Rb<tspan font-size="10.5" dy="3.4">2</tspan><tspan dy="-3.4">GeF</tspan><tspan font-size="10.5" dy="3.4" dx="0.6">6</tspan><tspan dy="-3.4">:Mn</tspan><tspan font-size="10.8" dy="-7.3" dx="0.6">4+</tspan></text>
<rect x="175.2" y="0.6" width="173.9" height="157.7" rx="1.8" ry="1.8" fill="#d5ffff" stroke="#466262" stroke-width="1.3"/>
<path d="M176.6,0.6H347.7" stroke="#1c1c1c" stroke-width="1.3"/>
<rect x="198.0" y="32.4" width="136.2" height="90.19999999999999" fill="none" stroke="#333" stroke-width="1.3"/>
<path d="M243.4,18.6V144M254.6,18.6V144" stroke="#555" stroke-width="0.85" stroke-dasharray="3.2 3.8"/>
<path d="M198,122.6v4.5M243.4,122.6v4.5M288.8,122.6v4.5M334.2,122.6v4.5" stroke="#333" stroke-width="1.2"/>
<text class="t" transform="translate(198,139.6) scale(1,1.07)" font-size="13" text-anchor="middle">600</text>
<text class="t" transform="translate(243.4,139.6) scale(1,1.07)" font-size="13" text-anchor="middle">620</text>
<text class="t" transform="translate(288.8,139.6) scale(1,1.07)" font-size="13" text-anchor="middle">640</text>
<text class="t" transform="translate(334.2,139.6) scale(1,1.07)" font-size="13" text-anchor="middle">660</text>
<text class="t" transform="translate(265.55,152.3) scale(1,1.07)" font-size="12.7" text-anchor="middle">Wavelength (nm)</text>
<text class="t" transform="translate(191.8,75.2) rotate(-90) scale(1,1.07)" font-size="12.7" text-anchor="middle">PL (arb. units)</text>
<path d="M198,92.1 L198.15,92.1 L198.3,92.1 L198.45,92.1 L198.61,92.1 L198.76,92.1 L198.91,92.1 L199.06,92.1 L199.21,92.11 L199.36,92.11 L199.52,92.11 L199.67,92.11 L199.82,92.11 L199.97,92.11 L200.12,92.11 L200.27,92.11 L200.42,92.11 L200.58,92.11 L200.73,92.11 L200.88,92.11 L201.03,92.11 L201.18,92.11 L201.33,92.11 L201.48,92.12 L201.64,92.12 L201.79,92.12 L201.94,92.12 L202.09,92.12 L202.24,92.12 L202.39,92.12 L202.55,92.12 L202.7,92.12 L202.85,92.12 L203,92.12 L203.15,92.12 L203.3,92.12 L203.45,92.12 L203.61,92.12 L203.76,92.13 L203.91,92.13 L204.06,92.13 L204.21,92.13 L204.36,92.13 L204.51,92.13 L204.67,92.13 L204.82,92.13 L204.97,92.13 L205.12,92.13 L205.27,92.13 L205.42,92.13 L205.58,92.13 L205.73,92.13 L205.88,92.14 L206.03,92.14 L206.18,92.14 L206.33,92.14 L206.48,92.14 L206.64,92.14 L206.79,92.14 L206.94,92.14 L207.09,92.14 L207.24,92.14 L207.39,92.14 L207.54,92.14 L207.7,92.14 L207.85,92.14 L208,92.14 L208.15,92.15 L208.3,92.15 L208.45,92.15 L208.61,92.15 L208.76,92.15 L208.91,92.15 L209.06,92.15 L209.21,92.15 L209.36,92.15 L209.51,92.15 L209.67,92.15 L209.82,92.15 L209.97,92.15 L210.12,92.15 L210.27,92.15 L210.42,92.16 L210.57,92.16 L210.73,92.16 L210.88,92.16 L211.03,92.16 L211.18,92.16 L211.33,92.16 L211.48,92.16 L211.64,92.16 L211.79,92.16 L211.94,92.16 L212.09,92.16 L212.24,92.16 L212.39,92.16 L212.54,92.16 L212.7,92.17 L212.85,92.17 L213,92.17 L213.15,92.17 L213.3,92.17 L213.45,92.17 L213.6,92.17 L213.76,92.17 L213.91,92.17 L214.06,92.17 L214.21,92.17 L214.36,92.17 L214.51,92.17 L214.67,92.17 L214.82,92.17 L214.97,92.18 L215.12,92.18 L215.27,92.18 L215.42,92.18 L215.57,92.18 L215.73,92.18 L215.88,92.18 L216.03,92.18 L216.18,92.18 L216.33,92.18 L216.48,92.18 L216.63,92.18 L216.79,92.18 L216.94,92.18 L217.09,92.18 L217.24,92.19 L217.39,92.19 L217.54,92.19 L217.7,92.19 L217.85,92.19 L218,92.19 L218.15,92.19 L218.3,92.19 L218.45,92.19 L218.6,92.19 L218.76,92.19 L218.91,92.19 L219.06,92.19 L219.21,92.19 L219.36,92.19 L219.51,92.2 L219.66,92.2 L219.82,92.2 L219.97,92.2 L220.12,92.2 L220.27,92.2 L220.42,92.2 L220.57,92.2 L220.73,92.2 L220.88,92.2 L221.03,92.2 L221.18,92.2 L221.33,92.2 L221.48,92.2 L221.63,92.2 L221.79,92.21 L221.94,92.21 L222.09,92.21 L222.24,92.21 L222.39,92.21 L222.54,92.21 L222.69,92.21 L222.85,92.21 L223,92.21 L223.15,92.21 L223.3,92.21 L223.45,92.21 L223.6,92.2 L223.76,92.2 L223.91,92.2 L224.06,92.19 L224.21,92.19 L224.36,92.18 L224.51,92.17 L224.66,92.16 L224.82,92.15 L224.97,92.13 L225.12,92.11 L225.27,92.09 L225.42,92.06 L225.57,92.03 L225.72,91.99 L225.88,91.96 L226.03,91.92 L226.18,91.87 L226.33,91.83 L226.48,91.78 L226.63,91.73 L226.79,91.68 L226.94,91.64 L227.09,91.59 L227.24,91.55 L227.39,91.52 L227.54,91.48 L227.69,91.46 L227.85,91.44 L228,91.44 L228.15,91.43 L228.3,91.44 L228.45,91.46 L228.6,91.48 L228.75,91.51 L228.91,91.54 L229.06,91.59 L229.21,91.63 L229.36,91.68 L229.51,91.73 L229.66,91.78 L229.82,91.83 L229.97,91.87 L230.12,91.92 L230.27,91.96 L230.42,92 L230.57,92.04 L230.72,92.07 L230.88,92.1 L231.03,92.13 L231.18,92.15 L231.33,92.17 L231.48,92.19 L231.63,92.2 L231.78,92.21 L231.94,92.22 L232.09,92.23 L232.24,92.23 L232.39,92.24 L232.54,92.24 L232.69,92.25 L232.85,92.25 L233,92.25 L233.15,92.25 L233.3,92.25 L233.45,92.26 L233.6,92.26 L233.75,92.26 L233.91,92.26 L234.06,92.26 L234.21,92.26 L234.36,92.26 L234.51,92.26 L234.66,92.26 L234.81,92.26 L234.97,92.26 L235.12,92.26 L235.27,92.27 L235.42,92.27 L235.57,92.27 L235.72,92.27 L235.88,92.27 L236.03,92.27 L236.18,92.27 L236.33,92.27 L236.48,92.27 L236.63,92.27 L236.78,92.27 L236.94,92.27 L237.09,92.27 L237.24,92.27 L237.39,92.28 L237.54,92.28 L237.69,92.28 L237.84,92.28 L238,92.28 L238.15,92.28 L238.3,92.28 L238.45,92.28 L238.6,92.28 L238.75,92.28 L238.91,92.28 L239.06,92.28 L239.21,92.28 L239.36,92.28 L239.51,92.28 L239.66,92.29 L239.81,92.29 L239.97,92.29 L240.12,92.29 L240.27,92.29 L240.42,92.29 L240.57,92.29 L240.72,92.29 L240.87,92.29 L241.03,92.29 L241.18,92.29 L241.33,92.29 L241.48,92.29 L241.63,92.29 L241.78,92.29 L241.94,92.3 L242.09,92.3 L242.24,92.3 L242.39,92.3 L242.54,92.3 L242.69,92.3 L242.84,92.3 L243,92.3 L243.15,92.29 L243.3,92.28 L243.45,92.27 L243.6,92.25 L243.75,92.22 L243.91,92.18 L244.06,92.11 L244.21,91.98 L244.36,91.77 L244.51,91.42 L244.66,90.86 L244.81,90.01 L244.97,88.75 L245.12,86.97 L245.27,84.55 L245.42,81.41 L245.57,77.51 L245.72,72.91 L245.87,67.75 L246.03,62.31 L246.18,56.95 L246.33,52.08 L246.48,48.14 L246.63,45.53 L246.78,44.49 L246.94,45.14 L247.09,47.42 L247.24,51.08 L247.39,55.76 L247.54,61.04 L247.69,66.48 L247.84,71.7 L248,76.43 L248.15,80.47 L248.3,83.76 L248.45,86.31 L248.6,88.2 L248.75,89.55 L248.9,90.46 L249.06,91.05 L249.21,91.42 L249.36,91.64 L249.51,91.76 L249.66,91.83 L249.81,91.86 L249.97,91.87 L250.12,91.87 L250.27,91.86 L250.42,91.85 L250.57,91.84 L250.72,91.82 L250.87,91.81 L251.03,91.79 L251.18,91.77 L251.33,91.75 L251.48,91.73 L251.63,91.7 L251.78,91.67 L251.93,91.64 L252.09,91.61 L252.24,91.57 L252.39,91.53 L252.54,91.49 L252.69,91.44 L252.84,91.4 L253,91.35 L253.15,91.31 L253.3,91.26 L253.45,91.22 L253.6,91.18 L253.75,91.14 L253.9,91.11 L254.06,91.08 L254.21,91.06 L254.36,91.04 L254.51,91.03 L254.66,91.02 L254.81,91.02 L254.96,91.03 L255.12,91.05 L255.27,91.08 L255.42,91.11 L255.57,91.14 L255.72,91.18 L255.87,91.22 L256.03,91.25 L256.18,91.29 L256.33,91.33 L256.48,91.37 L256.63,91.4 L256.78,91.43 L256.93,91.46 L257.09,91.49 L257.24,91.51 L257.39,91.53 L257.54,91.55 L257.69,91.57 L257.84,91.58 L257.99,91.59 L258.15,91.6 L258.3,91.61 L258.45,91.62 L258.6,91.63 L258.75,91.63 L258.9,91.64 L259.06,91.64 L259.21,91.64 L259.36,91.65 L259.51,91.65 L259.66,91.65 L259.81,91.65 L259.96,91.65 L260.12,91.66 L260.27,91.66 L260.42,91.66 L260.57,91.66 L260.72,91.66 L260.87,91.67 L261.02,91.67 L261.18,91.67 L261.33,91.67 L261.48,91.67 L261.63,91.67 L261.78,91.68 L261.93,91.68 L262.09,91.68 L262.24,91.68 L262.39,91.68 L262.54,91.68 L262.69,91.68 L262.84,91.67 L262.99,91.67 L263.15,91.65 L263.3,91.63 L263.45,91.6 L263.6,91.54 L263.75,91.45 L263.9,91.32 L264.05,91.13 L264.21,90.85 L264.36,90.46 L264.51,89.92 L264.66,89.21 L264.81,88.26 L264.96,87.04 L265.12,85.5 L265.27,83.6 L265.42,81.31 L265.57,78.62 L265.72,75.52 L265.87,72.07 L266.02,68.3 L266.18,64.32 L266.33,60.25 L266.48,56.22 L266.63,52.4 L266.78,48.97 L266.93,46.07 L267.08,43.87 L267.24,42.47 L267.39,41.94 L267.54,42.32 L267.69,43.59 L267.84,45.68 L267.99,48.47 L268.15,51.84 L268.3,55.61 L268.45,59.61 L268.6,63.69 L268.75,67.7 L268.9,71.51 L269.05,75.03 L269.21,78.18 L269.36,80.94 L269.51,83.3 L269.66,85.26 L269.81,86.85 L269.96,88.11 L270.11,89.09 L270.27,89.82 L270.42,90.35 L270.57,90.72 L270.72,90.94 L270.87,91.05 L271.02,91.06 L271.18,90.98 L271.33,90.84 L271.48,90.63 L271.63,90.37 L271.78,90.07 L271.93,89.75 L272.08,89.44 L272.24,89.14 L272.39,88.88 L272.54,88.67 L272.69,88.54 L272.84,88.48 L272.99,88.49 L273.14,88.56 L273.3,88.67 L273.45,88.79 L273.6,88.88 L273.75,88.92 L273.9,88.85 L274.05,88.65 L274.21,88.28 L274.36,87.7 L274.51,86.9 L274.66,85.86 L274.81,84.54 L274.96,82.96 L275.11,81.1 L275.27,78.98 L275.42,76.61 L275.57,74.04 L275.72,71.31 L275.87,68.47 L276.02,65.61 L276.17,62.81 L276.33,60.15 L276.48,57.72 L276.63,55.62 L276.78,53.93 L276.93,52.71 L277.08,52.01 L277.24,51.86 L277.39,52.27 L277.54,53.22 L277.69,54.68 L277.84,56.57 L277.99,58.84 L278.14,61.39 L278.3,64.13 L278.45,66.98 L278.6,69.85 L278.75,72.66 L278.9,75.34 L279.05,77.85 L279.2,80.14 L279.36,82.19 L279.51,84 L279.66,85.56 L279.81,86.88 L279.96,87.98 L280.11,88.88 L280.27,89.61 L280.42,90.18 L280.57,90.63 L280.72,90.97 L280.87,91.23 L281.02,91.43 L281.17,91.57 L281.33,91.67 L281.48,91.74 L281.63,91.8 L281.78,91.83 L281.93,91.86 L282.08,91.87 L282.23,91.89 L282.39,91.89 L282.54,91.9 L282.69,91.9 L282.84,91.91 L282.99,91.91 L283.14,91.91 L283.3,91.91 L283.45,91.92 L283.6,91.92 L283.75,91.92 L283.9,91.92 L284.05,91.92 L284.2,91.92 L284.36,91.93 L284.51,91.93 L284.66,91.93 L284.81,91.93 L284.96,91.93 L285.11,91.93 L285.26,91.94 L285.42,91.94 L285.57,91.94 L285.72,91.94 L285.87,91.94 L286.02,91.94 L286.17,91.95 L286.33,91.95 L286.48,91.95 L286.63,91.95 L286.78,91.95 L286.93,91.95 L287.08,91.96 L287.23,91.96 L287.39,91.96 L287.54,91.96 L287.69,91.96 L287.84,91.96 L287.99,91.97 L288.14,91.97 L288.29,91.97 L288.45,91.97 L288.6,91.97 L288.75,91.97 L288.9,91.98 L289.05,91.98 L289.2,91.98 L289.36,91.98 L289.51,91.98 L289.66,91.99 L289.81,91.99 L289.96,91.99 L290.11,91.99 L290.26,91.99 L290.42,91.99 L290.57,92 L290.72,92 L290.87,92 L291.02,92 L291.17,92 L291.33,92 L291.48,92.01 L291.63,92.01 L291.78,92.01 L291.93,92.01 L292.08,92.01 L292.23,92.01 L292.39,92.02 L292.54,92.02 L292.69,92.02 L292.84,92.02 L292.99,92.02 L293.14,92.02 L293.29,92.03 L293.45,92.03 L293.6,92.03 L293.75,92.03 L293.9,92.03 L294.05,92.03 L294.2,92.04 L294.36,92.04 L294.51,92.04 L294.66,92.04 L294.81,92.04 L294.96,92.04 L295.11,92.05 L295.26,92.05 L295.42,92.05 L295.57,92.05 L295.72,92.05 L295.87,92.05 L296.02,92.06 L296.17,92.06 L296.32,92.06 L296.48,92.06 L296.63,92.06 L296.78,92.06 L296.93,92.07 L297.08,92.07 L297.23,92.07 L297.39,92.07 L297.54,92.07 L297.69,92.07 L297.84,92.07 L297.99,92.07 L298.14,92.07 L298.29,92.06 L298.45,92.05 L298.6,92.04 L298.75,92.03 L298.9,92 L299.05,91.97 L299.2,91.93 L299.35,91.87 L299.51,91.8 L299.66,91.72 L299.81,91.61 L299.96,91.49 L300.11,91.34 L300.26,91.17 L300.42,90.98 L300.57,90.78 L300.72,90.56 L300.87,90.33 L301.02,90.11 L301.17,89.88 L301.32,89.68 L301.48,89.49 L301.63,89.34 L301.78,89.22 L301.93,89.15 L302.08,89.12 L302.23,89.14 L302.38,89.2 L302.54,89.31 L302.69,89.46 L302.84,89.63 L302.99,89.83 L303.14,90.04 L303.29,90.25 L303.45,90.44 L303.6,90.6 L303.75,90.73 L303.9,90.79 L304.05,90.77 L304.2,90.66 L304.35,90.43 L304.51,90.07 L304.66,89.58 L304.81,88.94 L304.96,88.17 L305.11,87.3 L305.26,86.35 L305.41,85.38 L305.57,84.46 L305.72,83.63 L305.87,82.97 L306.02,82.53 L306.17,82.35 L306.32,82.44 L306.48,82.8 L306.63,83.4 L306.78,84.19 L306.93,85.11 L307.08,86.09 L307.23,87.09 L307.38,88.04 L307.54,88.91 L307.69,89.67 L307.84,90.3 L307.99,90.82 L308.14,91.22 L308.29,91.52 L308.44,91.74 L308.6,91.89 L308.75,92 L308.9,92.07 L309.05,92.11 L309.2,92.14 L309.35,92.16 L309.51,92.17 L309.66,92.18 L309.81,92.18 L309.96,92.18 L310.11,92.19 L310.26,92.19 L310.41,92.19 L310.57,92.19 L310.72,92.19 L310.87,92.19 L311.02,92.18 L311.17,92.18 L311.32,92.18 L311.47,92.17 L311.63,92.16 L311.78,92.15 L311.93,92.14 L312.08,92.13 L312.23,92.11 L312.38,92.09 L312.54,92.06 L312.69,92.04 L312.84,92.01 L312.99,91.97 L313.14,91.93 L313.29,91.89 L313.44,91.85 L313.6,91.8 L313.75,91.75 L313.9,91.71 L314.05,91.66 L314.2,91.61 L314.35,91.57 L314.5,91.53 L314.66,91.5 L314.81,91.47 L314.96,91.45 L315.11,91.44 L315.26,91.43 L315.41,91.44 L315.57,91.45 L315.72,91.47 L315.87,91.5 L316.02,91.53 L316.17,91.57 L316.32,91.61 L316.47,91.66 L316.63,91.71 L316.78,91.76 L316.93,91.81 L317.08,91.86 L317.23,91.9 L317.38,91.95 L317.53,91.99 L317.69,92.03 L317.84,92.07 L317.99,92.1 L318.14,92.13 L318.29,92.15 L318.44,92.17 L318.6,92.19 L318.75,92.21 L318.9,92.22 L319.05,92.23 L319.2,92.24 L319.35,92.25 L319.5,92.26 L319.66,92.26 L319.81,92.27 L319.96,92.27 L320.11,92.27 L320.26,92.28 L320.41,92.28 L320.56,92.28 L320.72,92.28 L320.87,92.28 L321.02,92.28 L321.17,92.29 L321.32,92.29 L321.47,92.29 L321.63,92.29 L321.78,92.29 L321.93,92.29 L322.08,92.29 L322.23,92.3 L322.38,92.3 L322.53,92.3 L322.69,92.3 L322.84,92.3 L322.99,92.3 L323.14,92.3 L323.29,92.31 L323.44,92.31 L323.59,92.31 L323.75,92.31 L323.9,92.31 L324.05,92.31 L324.2,92.31 L324.35,92.31 L324.5,92.32 L324.66,92.32 L324.81,92.32 L324.96,92.32 L325.11,92.32 L325.26,92.32 L325.41,92.32 L325.56,92.33 L325.72,92.33 L325.87,92.33 L326.02,92.33 L326.17,92.33 L326.32,92.33 L326.47,92.33 L326.62,92.33 L326.78,92.34 L326.93,92.34 L327.08,92.34 L327.23,92.34 L327.38,92.34 L327.53,92.34 L327.69,92.34 L327.84,92.35 L327.99,92.35 L328.14,92.35 L328.29,92.35 L328.44,92.35 L328.59,92.35 L328.75,92.35 L328.9,92.35 L329.05,92.36 L329.2,92.36 L329.35,92.36 L329.5,92.36 L329.65,92.36 L329.81,92.36 L329.96,92.36 L330.11,92.37 L330.26,92.37 L330.41,92.37 L330.56,92.37 L330.72,92.37 L330.87,92.37 L331.02,92.37 L331.17,92.38 L331.32,92.38 L331.47,92.38 L331.62,92.38 L331.78,92.38 L331.93,92.38 L332.08,92.38 L332.23,92.38 L332.38,92.39 L332.53,92.39 L332.68,92.39 L332.84,92.39 L332.99,92.39 L333.14,92.39 L333.29,92.39 L333.44,92.4 L333.59,92.4 L333.75,92.4 L333.9,92.4 L334.05,92.4 L334.2,92.4" fill="none" stroke="#222" stroke-width="0.95"/>
<path d="M198,120.2 L198.15,120.2 L198.3,120.2 L198.45,120.2 L198.61,120.2 L198.76,120.2 L198.91,120.2 L199.06,120.2 L199.21,120.2 L199.36,120.2 L199.52,120.21 L199.67,120.21 L199.82,120.21 L199.97,120.21 L200.12,120.21 L200.27,120.21 L200.42,120.21 L200.58,120.21 L200.73,120.21 L200.88,120.21 L201.03,120.21 L201.18,120.21 L201.33,120.21 L201.48,120.21 L201.64,120.21 L201.79,120.21 L201.94,120.21 L202.09,120.21 L202.24,120.21 L202.39,120.21 L202.55,120.21 L202.7,120.21 L202.85,120.21 L203,120.21 L203.15,120.21 L203.3,120.21 L203.45,120.21 L203.61,120.21 L203.76,120.21 L203.91,120.21 L204.06,120.21 L204.21,120.21 L204.36,120.21 L204.51,120.21 L204.67,120.21 L204.82,120.21 L204.97,120.21 L205.12,120.21 L205.27,120.21 L205.42,120.21 L205.58,120.21 L205.73,120.21 L205.88,120.21 L206.03,120.21 L206.18,120.21 L206.33,120.21 L206.48,120.21 L206.64,120.21 L206.79,120.21 L206.94,120.2 L207.09,120.2 L207.24,120.2 L207.39,120.2 L207.54,120.2 L207.7,120.2 L207.85,120.2 L208,120.2 L208.15,120.2 L208.3,120.19 L208.45,120.19 L208.61,120.19 L208.76,120.19 L208.91,120.19 L209.06,120.19 L209.21,120.18 L209.36,120.18 L209.51,120.18 L209.67,120.18 L209.82,120.18 L209.97,120.18 L210.12,120.17 L210.27,120.17 L210.42,120.17 L210.57,120.17 L210.73,120.16 L210.88,120.16 L211.03,120.16 L211.18,120.16 L211.33,120.15 L211.48,120.15 L211.64,120.15 L211.79,120.14 L211.94,120.14 L212.09,120.14 L212.24,120.13 L212.39,120.13 L212.54,120.12 L212.7,120.12 L212.85,120.12 L213,120.11 L213.15,120.11 L213.3,120.1 L213.45,120.09 L213.6,120.09 L213.76,120.08 L213.91,120.07 L214.06,120.06 L214.21,120.04 L214.36,120.03 L214.51,120.01 L214.67,119.98 L214.82,119.95 L214.97,119.92 L215.12,119.87 L215.27,119.82 L215.42,119.76 L215.57,119.68 L215.73,119.59 L215.88,119.48 L216.03,119.35 L216.18,119.2 L216.33,119.03 L216.48,118.83 L216.63,118.6 L216.79,118.35 L216.94,118.06 L217.09,117.74 L217.24,117.4 L217.39,117.02 L217.54,116.62 L217.7,116.2 L217.85,115.75 L218,115.29 L218.15,114.83 L218.3,114.36 L218.45,113.89 L218.6,113.44 L218.76,113.01 L218.91,112.61 L219.06,112.25 L219.21,111.93 L219.36,111.67 L219.51,111.46 L219.66,111.32 L219.82,111.23 L219.97,111.22 L220.12,111.27 L220.27,111.38 L220.42,111.56 L220.57,111.79 L220.73,112.07 L220.88,112.4 L221.03,112.76 L221.18,113.15 L221.33,113.55 L221.48,113.97 L221.63,114.39 L221.79,114.8 L221.94,115.21 L222.09,115.59 L222.24,115.95 L222.39,116.28 L222.54,116.59 L222.69,116.86 L222.85,117.09 L223,117.29 L223.15,117.45 L223.3,117.58 L223.45,117.68 L223.6,117.74 L223.76,117.77 L223.91,117.77 L224.06,117.74 L224.21,117.68 L224.36,117.6 L224.51,117.49 L224.66,117.36 L224.82,117.21 L224.97,117.03 L225.12,116.83 L225.27,116.61 L225.42,116.36 L225.57,116.09 L225.72,115.81 L225.88,115.5 L226.03,115.16 L226.18,114.8 L226.33,114.43 L226.48,114.02 L226.63,113.6 L226.79,113.15 L226.94,112.67 L227.09,112.18 L227.24,111.66 L227.39,111.12 L227.54,110.57 L227.69,109.99 L227.85,109.39 L228,108.78 L228.15,108.15 L228.3,107.52 L228.45,106.87 L228.6,106.22 L228.75,105.56 L228.91,104.91 L229.06,104.26 L229.21,103.63 L229.36,103.01 L229.51,102.41 L229.66,101.84 L229.82,101.3 L229.97,100.81 L230.12,100.36 L230.27,99.96 L230.42,99.63 L230.57,99.35 L230.72,99.15 L230.88,99.02 L231.03,98.96 L231.18,98.97 L231.33,99.06 L231.48,99.23 L231.63,99.46 L231.78,99.76 L231.94,100.12 L232.09,100.54 L232.24,101.01 L232.39,101.52 L232.54,102.06 L232.69,102.64 L232.85,103.24 L233,103.86 L233.15,104.49 L233.3,105.13 L233.45,105.77 L233.6,106.42 L233.75,107.06 L233.91,107.69 L234.06,108.31 L234.21,108.92 L234.36,109.51 L234.51,110.08 L234.66,110.64 L234.81,111.17 L234.97,111.69 L235.12,112.18 L235.27,112.65 L235.42,113.1 L235.57,113.52 L235.72,113.92 L235.88,114.3 L236.03,114.66 L236.18,114.99 L236.33,115.3 L236.48,115.59 L236.63,115.86 L236.78,116.11 L236.94,116.34 L237.09,116.55 L237.24,116.75 L237.39,116.93 L237.54,117.09 L237.69,117.24 L237.84,117.37 L238,117.49 L238.15,117.6 L238.3,117.7 L238.45,117.79 L238.6,117.87 L238.75,117.94 L238.91,118 L239.06,118.05 L239.21,118.1 L239.36,118.14 L239.51,118.17 L239.66,118.2 L239.81,118.22 L239.97,118.23 L240.12,118.24 L240.27,118.25 L240.42,118.25 L240.57,118.25 L240.72,118.24 L240.87,118.23 L241.03,118.21 L241.18,118.19 L241.33,118.17 L241.48,118.14 L241.63,118.1 L241.78,118.07 L241.94,118.03 L242.09,117.98 L242.24,117.93 L242.39,117.88 L242.54,117.82 L242.69,117.75 L242.84,117.68 L243,117.6 L243.15,117.52 L243.3,117.43 L243.45,117.34 L243.6,117.23 L243.75,117.12 L243.91,117 L244.06,116.87 L244.21,116.74 L244.36,116.59 L244.51,116.43 L244.66,116.26 L244.81,116.07 L244.97,115.88 L245.12,115.66 L245.27,115.44 L245.42,115.19 L245.57,114.93 L245.72,114.65 L245.87,114.35 L246.03,114.02 L246.18,113.67 L246.33,113.3 L246.48,112.91 L246.63,112.49 L246.78,112.04 L246.94,111.57 L247.09,111.07 L247.24,110.55 L247.39,110 L247.54,109.44 L247.69,108.87 L247.84,108.29 L248,107.71 L248.15,107.15 L248.3,106.61 L248.45,106.1 L248.6,105.65 L248.75,105.26 L248.9,104.94 L249.06,104.71 L249.21,104.58 L249.36,104.55 L249.51,104.62 L249.66,104.79 L249.81,105.06 L249.97,105.4 L250.12,105.82 L250.27,106.29 L250.42,106.81 L250.57,107.36 L250.72,107.93 L250.87,108.5 L251.03,109.07 L251.18,109.64 L251.33,110.18 L251.48,110.71 L251.63,111.22 L251.78,111.7 L251.93,112.15 L252.09,112.58 L252.24,112.99 L252.39,113.37 L252.54,113.72 L252.69,114.05 L252.84,114.36 L253,114.65 L253.15,114.91 L253.3,115.16 L253.45,115.39 L253.6,115.61 L253.75,115.8 L253.9,115.99 L254.06,116.16 L254.21,116.32 L254.36,116.47 L254.51,116.6 L254.66,116.73 L254.81,116.85 L254.96,116.95 L255.12,117.06 L255.27,117.15 L255.42,117.23 L255.57,117.31 L255.72,117.38 L255.87,117.45 L256.03,117.51 L256.18,117.56 L256.33,117.61 L256.48,117.66 L256.63,117.7 L256.78,117.74 L256.93,117.77 L257.09,117.8 L257.24,117.82 L257.39,117.84 L257.54,117.85 L257.69,117.87 L257.84,117.88 L257.99,117.88 L258.15,117.88 L258.3,117.88 L258.45,117.88 L258.6,117.87 L258.75,117.86 L258.9,117.85 L259.06,117.83 L259.21,117.81 L259.36,117.78 L259.51,117.76 L259.66,117.73 L259.81,117.69 L259.96,117.66 L260.12,117.61 L260.27,117.57 L260.42,117.52 L260.57,117.47 L260.72,117.41 L260.87,117.35 L261.02,117.29 L261.18,117.22 L261.33,117.14 L261.48,117.06 L261.63,116.98 L261.78,116.89 L261.93,116.79 L262.09,116.69 L262.24,116.58 L262.39,116.46 L262.54,116.34 L262.69,116.21 L262.84,116.06 L262.99,115.91 L263.15,115.75 L263.3,115.58 L263.45,115.39 L263.6,115.19 L263.75,114.98 L263.9,114.75 L264.05,114.51 L264.21,114.24 L264.36,113.96 L264.51,113.65 L264.66,113.33 L264.81,112.98 L264.96,112.6 L265.12,112.19 L265.27,111.76 L265.42,111.29 L265.57,110.79 L265.72,110.25 L265.87,109.67 L266.02,109.06 L266.18,108.4 L266.33,107.69 L266.48,106.94 L266.63,106.15 L266.78,105.3 L266.93,104.4 L267.08,103.45 L267.24,102.44 L267.39,101.39 L267.54,100.28 L267.69,99.12 L267.84,97.91 L267.99,96.66 L268.15,95.37 L268.3,94.05 L268.45,92.7 L268.6,91.35 L268.75,89.99 L268.9,88.66 L269.05,87.37 L269.21,86.13 L269.36,84.98 L269.51,83.93 L269.66,83.02 L269.81,82.26 L269.96,81.67 L270.11,81.27 L270.27,81.07 L270.42,81.07 L270.57,81.28 L270.72,81.68 L270.87,82.26 L271.02,83.01 L271.18,83.89 L271.33,84.9 L271.48,85.99 L271.63,87.16 L271.78,88.37 L271.93,89.61 L272.08,90.85 L272.24,92.09 L272.39,93.3 L272.54,94.48 L272.69,95.62 L272.84,96.72 L272.99,97.76 L273.14,98.74 L273.3,99.67 L273.45,100.53 L273.6,101.33 L273.75,102.07 L273.9,102.74 L274.05,103.35 L274.21,103.9 L274.36,104.38 L274.51,104.81 L274.66,105.17 L274.81,105.47 L274.96,105.72 L275.11,105.9 L275.27,106.03 L275.42,106.1 L275.57,106.12 L275.72,106.08 L275.87,105.99 L276.02,105.84 L276.17,105.64 L276.33,105.39 L276.48,105.09 L276.63,104.73 L276.78,104.33 L276.93,103.88 L277.08,103.39 L277.24,102.86 L277.39,102.28 L277.54,101.67 L277.69,101.03 L277.84,100.37 L277.99,99.7 L278.14,99.01 L278.3,98.33 L278.45,97.67 L278.6,97.04 L278.75,96.45 L278.9,95.92 L279.05,95.47 L279.2,95.11 L279.36,94.84 L279.51,94.69 L279.66,94.66 L279.81,94.76 L279.96,94.97 L280.11,95.31 L280.27,95.76 L280.42,96.31 L280.57,96.95 L280.72,97.66 L280.87,98.44 L281.02,99.25 L281.17,100.1 L281.33,100.97 L281.48,101.85 L281.63,102.73 L281.78,103.59 L281.93,104.44 L282.08,105.27 L282.23,106.07 L282.39,106.84 L282.54,107.58 L282.69,108.29 L282.84,108.97 L282.99,109.61 L283.14,110.22 L283.3,110.8 L283.45,111.34 L283.6,111.86 L283.75,112.35 L283.9,112.8 L284.05,113.23 L284.2,113.64 L284.36,114.02 L284.51,114.37 L284.66,114.71 L284.81,115.02 L284.96,115.32 L285.11,115.59 L285.26,115.85 L285.42,116.09 L285.57,116.32 L285.72,116.53 L285.87,116.74 L286.02,116.92 L286.17,117.1 L286.33,117.27 L286.48,117.43 L286.63,117.57 L286.78,117.72 L286.93,117.85 L287.08,117.97 L287.23,118.09 L287.39,118.21 L287.54,118.31 L287.69,118.42 L287.84,118.51 L287.99,118.61 L288.14,118.7 L288.29,118.78 L288.45,118.86 L288.6,118.94 L288.75,119.01 L288.9,119.09 L289.05,119.15 L289.2,119.22 L289.36,119.28 L289.51,119.35 L289.66,119.4 L289.81,119.46 L289.96,119.52 L290.11,119.57 L290.26,119.62 L290.42,119.67 L290.57,119.72 L290.72,119.76 L290.87,119.81 L291.02,119.85 L291.17,119.89 L291.33,119.93 L291.48,119.97 L291.63,120.01 L291.78,120.05 L291.93,120.08 L292.08,120.12 L292.23,120.15 L292.39,120.19 L292.54,120.22 L292.69,120.25 L292.84,120.28 L292.99,120.31 L293.14,120.34 L293.29,120.37 L293.45,120.39 L293.6,120.42 L293.75,120.45 L293.9,120.47 L294.05,120.5 L294.2,120.52 L294.36,120.54 L294.51,120.57 L294.66,120.59 L294.81,120.61 L294.96,120.63 L295.11,120.65 L295.26,120.67 L295.42,120.69 L295.57,120.71 L295.72,120.73 L295.87,120.75 L296.02,120.77 L296.17,120.79 L296.32,120.81 L296.48,120.82 L296.63,120.84 L296.78,120.86 L296.93,120.87 L297.08,120.89 L297.23,120.91 L297.39,120.92 L297.54,120.94 L297.69,120.95 L297.84,120.96 L297.99,120.98 L298.14,120.99 L298.29,121.01 L298.45,121.02 L298.6,121.03 L298.75,121.04 L298.9,121.06 L299.05,121.07 L299.2,121.08 L299.35,121.09 L299.51,121.1 L299.66,121.11 L299.81,121.12 L299.96,121.13 L300.11,121.13 L300.26,121.14 L300.42,121.14 L300.57,121.14 L300.72,121.14 L300.87,121.14 L301.02,121.14 L301.17,121.13 L301.32,121.12 L301.48,121.11 L301.63,121.09 L301.78,121.06 L301.93,121.04 L302.08,121 L302.23,120.96 L302.38,120.91 L302.54,120.86 L302.69,120.79 L302.84,120.72 L302.99,120.64 L303.14,120.55 L303.29,120.45 L303.45,120.33 L303.6,120.21 L303.75,120.08 L303.9,119.93 L304.05,119.77 L304.2,119.61 L304.35,119.43 L304.51,119.24 L304.66,119.05 L304.81,118.84 L304.96,118.64 L305.11,118.42 L305.26,118.21 L305.41,117.99 L305.57,117.77 L305.72,117.56 L305.87,117.35 L306.02,117.15 L306.17,116.96 L306.32,116.78 L306.48,116.62 L306.63,116.47 L306.78,116.34 L306.93,116.23 L307.08,116.14 L307.23,116.07 L307.38,116.03 L307.54,116.01 L307.69,116.02 L307.84,116.05 L307.99,116.1 L308.14,116.18 L308.29,116.28 L308.44,116.4 L308.6,116.55 L308.75,116.71 L308.9,116.88 L309.05,117.07 L309.2,117.28 L309.35,117.49 L309.51,117.71 L309.66,117.94 L309.81,118.16 L309.96,118.39 L310.11,118.62 L310.26,118.85 L310.41,119.07 L310.57,119.29 L310.72,119.5 L310.87,119.7 L311.02,119.89 L311.17,120.07 L311.32,120.24 L311.47,120.4 L311.63,120.54 L311.78,120.68 L311.93,120.81 L312.08,120.92 L312.23,121.03 L312.38,121.12 L312.54,121.21 L312.69,121.29 L312.84,121.36 L312.99,121.42 L313.14,121.47 L313.29,121.52 L313.44,121.57 L313.6,121.6 L313.75,121.64 L313.9,121.66 L314.05,121.69 L314.2,121.71 L314.35,121.73 L314.5,121.75 L314.66,121.76 L314.81,121.78 L314.96,121.79 L315.11,121.8 L315.26,121.81 L315.41,121.82 L315.57,121.82 L315.72,121.83 L315.87,121.84 L316.02,121.84 L316.17,121.85 L316.32,121.85 L316.47,121.86 L316.63,121.86 L316.78,121.87 L316.93,121.87 L317.08,121.88 L317.23,121.88 L317.38,121.88 L317.53,121.89 L317.69,121.89 L317.84,121.9 L317.99,121.9 L318.14,121.91 L318.29,121.91 L318.44,121.91 L318.6,121.92 L318.75,121.92 L318.9,121.93 L319.05,121.93 L319.2,121.93 L319.35,121.94 L319.5,121.94 L319.66,121.94 L319.81,121.95 L319.96,121.95 L320.11,121.96 L320.26,121.96 L320.41,121.96 L320.56,121.97 L320.72,121.97 L320.87,121.97 L321.02,121.98 L321.17,121.98 L321.32,121.98 L321.47,121.99 L321.63,121.99 L321.78,122 L321.93,122 L322.08,122 L322.23,122.01 L322.38,122.01 L322.53,122.01 L322.69,122.02 L322.84,122.02 L322.99,122.02 L323.14,122.03 L323.29,122.03 L323.44,122.03 L323.59,122.04 L323.75,122.04 L323.9,122.04 L324.05,122.05 L324.2,122.05 L324.35,122.06 L324.5,122.06 L324.66,122.06 L324.81,122.07 L324.96,122.07 L325.11,122.07 L325.26,122.08 L325.41,122.08 L325.56,122.08 L325.72,122.09 L325.87,122.09 L326.02,122.09 L326.17,122.1 L326.32,122.1 L326.47,122.1 L326.62,122.1 L326.78,122.11 L326.93,122.11 L327.08,122.11 L327.23,122.12 L327.38,122.12 L327.53,122.12 L327.69,122.13 L327.84,122.13 L327.99,122.13 L328.14,122.14 L328.29,122.14 L328.44,122.14 L328.59,122.15 L328.75,122.15 L328.9,122.15 L329.05,122.16 L329.2,122.16 L329.35,122.16 L329.5,122.16 L329.65,122.17 L329.81,122.17 L329.96,122.17 L330.11,122.18 L330.26,122.18 L330.41,122.18 L330.56,122.19 L330.72,122.19 L330.87,122.19 L331.02,122.2 L331.17,122.2 L331.32,122.2 L331.47,122.2 L331.62,122.21 L331.78,122.21 L331.93,122.21 L332.08,122.22 L332.23,122.22 L332.38,122.22 L332.53,122.23 L332.68,122.23 L332.84,122.23 L332.99,122.23 L333.14,122.24 L333.29,122.24 L333.44,122.24 L333.59,122.25 L333.75,122.25 L333.9,122.25 L334.05,122.25 L334.2,122.26" fill="none" stroke="#ff4040" stroke-width="1.0"/>
<path d="M231.7,23.1H265.9" stroke="#444" stroke-width="0.8"/>
<path d="M243.1,23.1L238.8,21.6L238.8,24.6ZM243.7,23.1L248,21.6L248,24.6ZM254.3,23.1L250,21.6L250,24.6ZM255,23.1L259.3,21.6L259.3,24.6Z" fill="#111"/>
<text class="t" transform="translate(213.5,26.1) scale(1,1.07)" font-size="12" font-style="italic">I</text>
<text class="t" transform="translate(218,27.3) scale(1,1.07)" font-size="8.5">a-S</text>
<text class="t" transform="translate(239.6,12.8) scale(1,1.07)" font-size="11.5" font-style="italic">I</text>
<text class="t" transform="translate(244,15.6) scale(1,1.07)" font-size="8.4">ZPL</text>
<text class="t" transform="translate(267.8,25.9) scale(1,1.07)" font-size="12" font-style="italic">I</text>
<text class="t" transform="translate(272.8,28) scale(1,1.07)" font-size="8.5">S</text>
<path d="M280,41.4H302.1" stroke="#333" stroke-width="1.1"/>
<path d="M280,52.8H302.1" stroke="#ff5555" stroke-width="1.3"/>
<text class="t" transform="translate(331.8,45.7) scale(1,1.07)" font-size="11.2" text-anchor="end">20 K</text>
<text class="t" transform="translate(331.8,56.6) scale(1,1.07)" font-size="11.2" text-anchor="end">420 K</text>
</svg>
</body></html>
